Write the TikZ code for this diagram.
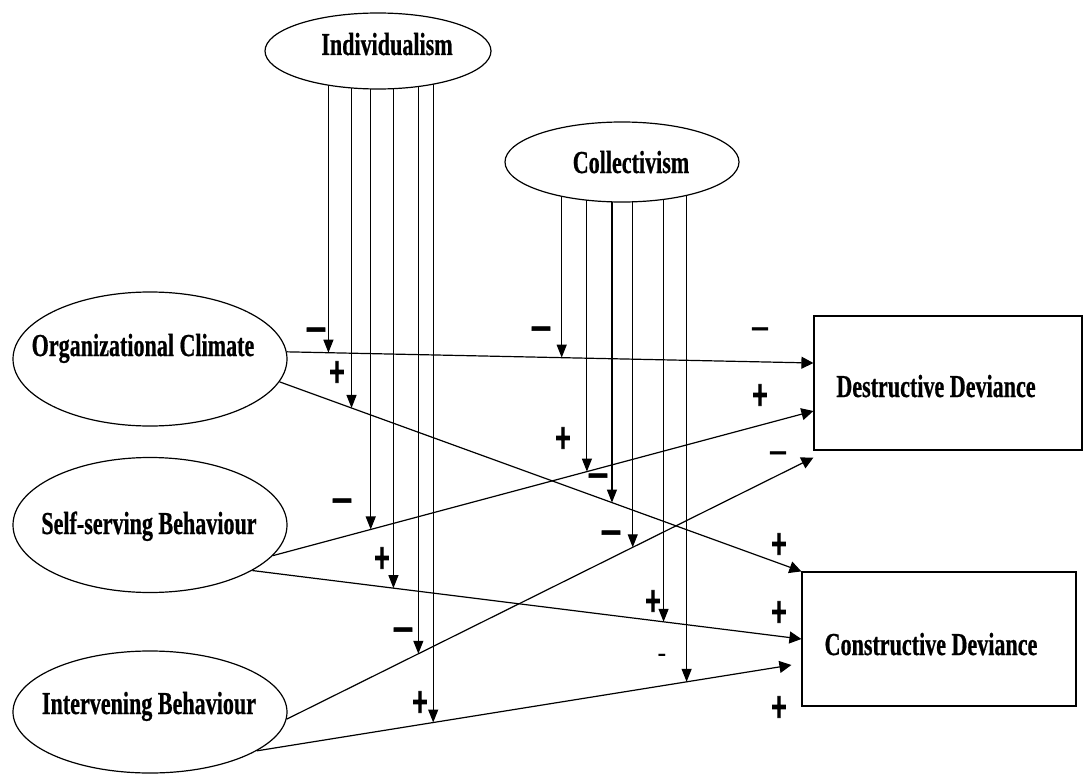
\documentclass[tikz,border=0pt]{standalone}
\usepackage{fontspec}
\setmainfont{Liberation Serif}
\newfontfamily\lblfont[FakeStretch=0.69,FakeBold=0.6]{Liberation Serif}
\newfontfamily\signfont[FakeStretch=0.62,FakeBold=2.2]{DejaVu Sans}
\newfontfamily\barfont[FakeStretch=0.85,FakeBold=1.5]{DejaVu Sans}
\usetikzlibrary{arrows.meta,shapes.geometric,calc,backgrounds}

\begin{document}
\begin{tikzpicture}[x=1pt,y=-1pt,
    construct/.style={draw,ellipse,line width=1.2pt,fill=white,inner sep=0pt},
    outcome/.style={draw,rectangle,line width=1.2pt,inner sep=0pt,minimum height=134pt},
    lbl/.style={font=\lblfont\bfseries\fontsize{32}{36}\selectfont,inner sep=0pt,anchor=base},
    link/.style={-{Triangle[length=12pt,width=12pt]},line width=1.2pt},
    modarrow/.style={-{Triangle[length=13pt,width=10pt]},line width=1.1pt},
    plussign/.style={font=\signfont\bfseries\fontsize{34}{34}\selectfont,inner sep=0pt},
    minussign/.style={font=\barfont\bfseries\fontsize{34}{34}\selectfont,inner sep=0pt},
    thinminus/.style={font=\barfont\fontsize{30}{30}\selectfont,inner sep=0pt}]
    \useasboundingbox (0,0) rectangle (1084,776);

    \node[construct,minimum width=226pt,minimum height=76pt] (ind) at (378,51) {};
    \node[lbl] (indtxt) at (387,55) {Individualism};
    \node[construct,minimum width=234pt,minimum height=80pt] (col) at (622,162) {};
    \node[lbl] (coltxt) at (631,173) {Collectivism};

    \node[construct,minimum width=274pt,minimum height=134pt] (oc) at (150,359) {};
    \node[lbl] (octxt) at (143,356) {Organizational Climate};
    \node[construct,minimum width=274pt,minimum height=135pt] (ssb) at (150,525) {};
    \node[lbl] (ssbtxt) at (149,534) {Self-serving Behaviour};
    \node[construct,minimum width=274pt,minimum height=122pt] (ivb) at (150,712) {};
    \node[lbl] (ivbtxt) at (149,714) {Intervening Behaviour};

    \node[outcome,minimum width=268pt] (dd) at (948,383) {};
    \node[lbl] (ddtxt) at (936,397) {Destructive Deviance};
    \node[outcome,minimum width=274pt] (cd) at (939,639) {};
    \node[lbl] (cdtxt) at (931,655) {Constructive Deviance};

    % direct paths
    \coordinate (dd1) at ([yshift=20pt]dd.west);
    \coordinate (dd2) at ([yshift=-28pt]dd.west);
    \coordinate (dd3) at ([yshift=-7pt]dd.south west);
    \coordinate (cd3) at ([xshift=-10pt,yshift=-26pt]cd.west);
    \draw[link] (oc.3) -- (dd1);
    \draw[link] (oc.-10) -- (cd.north west);
    \draw[link] (ssb.-14) -- (dd2);
    \draw[link] (ssb.-24) -- (cd.west);
    \draw[link] (ivb.-3) -- (dd3);
    \draw[link] (ivb.-20) -- (cd3);

    % moderating paths
    \coordinate (i1) at ($(oc.3)!0.079!(dd1)$);
    \coordinate (i2) at ($(oc.-10)!0.138!(cd.north west)$);
    \coordinate (i3) at ($(ssb.-14)!0.181!(dd2)$);
    \coordinate (i4) at ($(ssb.-24)!0.257!(cd.west)$);
    \coordinate (i5) at ($(ivb.-3)!0.250!(dd3)$);
    \coordinate (i6) at ($(ivb.-20)!0.330!(cd3)$);
    \coordinate (c1) at ($(oc.3)!0.522!(dd1)$);
    \coordinate (c2) at ($(ssb.-14)!0.581!(dd2)$);
    \coordinate (c3) at ($(oc.-10)!0.637!(cd.north west)$);
    \coordinate (c4) at ($(ivb.-3)!0.657!(dd3)$);
    \coordinate (c5) at ($(ssb.-24)!0.749!(cd.west)$);
    \coordinate (c6) at ($(ivb.-20)!0.804!(cd3)$);
    \begin{scope}[on background layer]
        \foreach \m in {i1,i2,i3,i4,i5,i6}
            \draw[modarrow] (\m |- ind.center) -- (\m);
        \foreach \m in {c1,c2,c3,c4,c5,c6}
            \draw[modarrow] (\m |- col.center) -- (\m);
    \end{scope}

    % signs
    \foreach \p [count=\k] in {(316,334),(541,333),(598,480),(342,505),(611,537),(403,634)}
        \node[minussign] (neg\k) at \p {−};
    \foreach \p [count=\k] in {(760,333),(778,457)}
        \node[thinminus] (thin\k) at \p {−};
    \node[font=\bfseries\fontsize{26}{26}\selectfont,inner sep=0pt] (dash1) at (662,658) {-};
    \foreach \p [count=\k] in {(337,372),(760,395),(563,438),(382,558),(779,544),(653,601),(779,612),(420,702),(779,707)}
        \node[plussign] (plus\k) at \p {+};
\end{tikzpicture}
\end{document}
